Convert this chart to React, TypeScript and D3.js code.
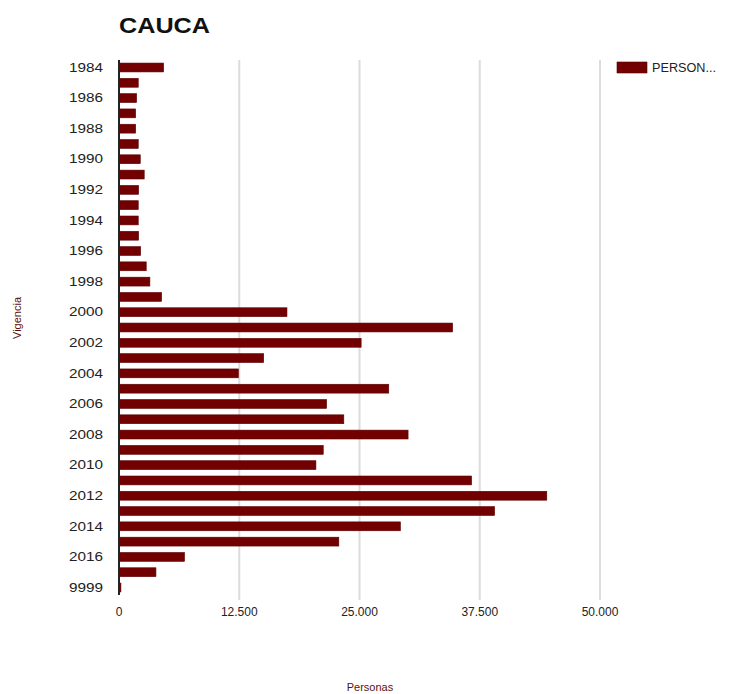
import React from "react";
import * as d3 from "d3";

// Vigencia categories (years) and Personas per year
const years = [
  "1984", "1985", "1986", "1987", "1988", "1989", "1990", "1991", "1992", "1993",
  "1994", "1995", "1996", "1997", "1998", "1999", "2000", "2001", "2002", "2003",
  "2004", "2005", "2006", "2007", "2008", "2009", "2010", "2011", "2012", "2013",
  "2014", "2015", "2016", "2017", "9999",
];
const personas = [
  4640, 2000, 1830, 1730, 1730, 2000, 2210, 2620, 2040, 2000,
  2000, 2040, 2250, 2830, 3210, 4430, 17460, 34680, 25170, 15040,
  12410, 28040, 21580, 23370, 30050, 21230, 20470, 36650, 44470, 39040,
  29250, 22850, 6810, 3840, 200,
];
const xTicks = [0, 12500, 25000, 37500, 50000];
const yLabelYears = years.filter((_, i) => i % 2 === 0);

const W = 733;
const H = 694;
const margin = { top: 60, right: 133, bottom: 99, left: 119 };
const barColor = "#730000";
const font = "'Liberation Sans', Arial, sans-serif";

const fmt = (v: number) => d3.format(",")(v).replace(/,/g, ".");

export default function App() {
  const x = d3
    .scaleLinear()
    .domain([0, 50000])
    .range([margin.left, margin.left + 481]);
  const y = d3
    .scaleBand()
    .domain(years)
    .range([margin.top, H - margin.bottom])
    .paddingInner(0.42)
    .paddingOuter(0.2);

  const plotBottom = H - margin.bottom;

  return (
    <svg
      width={W}
      height={H}
      style={{ position: "absolute", left: 0, top: 0, background: "#fff" }}
    >
      <text
        x={119}
        y={33}
        fontFamily={font}
        fontSize={22}
        fontWeight="bold"
        fill="#111"
        textLength={91}
        lengthAdjust="spacingAndGlyphs"
      >
        CAUCA
      </text>

      {/* gridlines */}
      {xTicks.slice(1).map((t) => (
        <line
          key={t}
          x1={x(t)}
          x2={x(t)}
          y1={margin.top}
          y2={plotBottom + 5}
          stroke="#dcdcdc"
          strokeWidth={2}
        />
      ))}

      {/* bars */}
      {years.map((yr, i) => (
        <rect
          key={yr}
          x={x(0)}
          y={y(yr)}
          width={Math.max(1, x(personas[i]) - x(0))}
          height={y.bandwidth()}
          fill={barColor}
          stroke="#5a0000"
          strokeWidth={0.6}
        />
      ))}

      {/* y axis line */}
      <line x1={x(0)} x2={x(0)} y1={margin.top} y2={plotBottom} stroke="#222" strokeWidth={2} />

      {/* y tick labels */}
      {yLabelYears.map((yr) => (
        <text
          key={yr}
          x={103}
          y={(y(yr) as number) + y.bandwidth() / 2}
          dy="0.35em"
          textAnchor="end"
          fontFamily={font}
          fontSize={12}
          fill="#222"
          textLength={34}
          lengthAdjust="spacingAndGlyphs"
        >
          {yr}
        </text>
      ))}

      {/* x tick labels */}
      {xTicks.map((t) => (
        <text
          key={t}
          x={x(t)}
          y={plotBottom + 21}
          textAnchor="middle"
          fontFamily={font}
          fontSize={12}
          fill="#222"
        >
          {fmt(t)}
        </text>
      ))}

      {/* axis titles */}
      <text
        x={370}
        y={691}
        textAnchor="middle"
        fontFamily={font}
        fontSize={11}
        fill="#5a1010"
      >
        Personas
      </text>
      <text
        transform={`translate(21,318) rotate(-90)`}
        textAnchor="middle"
        fontFamily={font}
        fontSize={11}
        fill="#5a1010"
      >
        Vigencia
      </text>

      {/* legend */}
      <rect x={617} y={62} width={30} height={11} fill={barColor} stroke="#5a0000" strokeWidth={0.6} />
      <text
        x={652}
        y={72}
        fontFamily={font}
        fontSize={12}
        fill="#222"
        textLength={64}
        lengthAdjust="spacingAndGlyphs"
      >
        PERSON...
      </text>
    </svg>
  );
}
